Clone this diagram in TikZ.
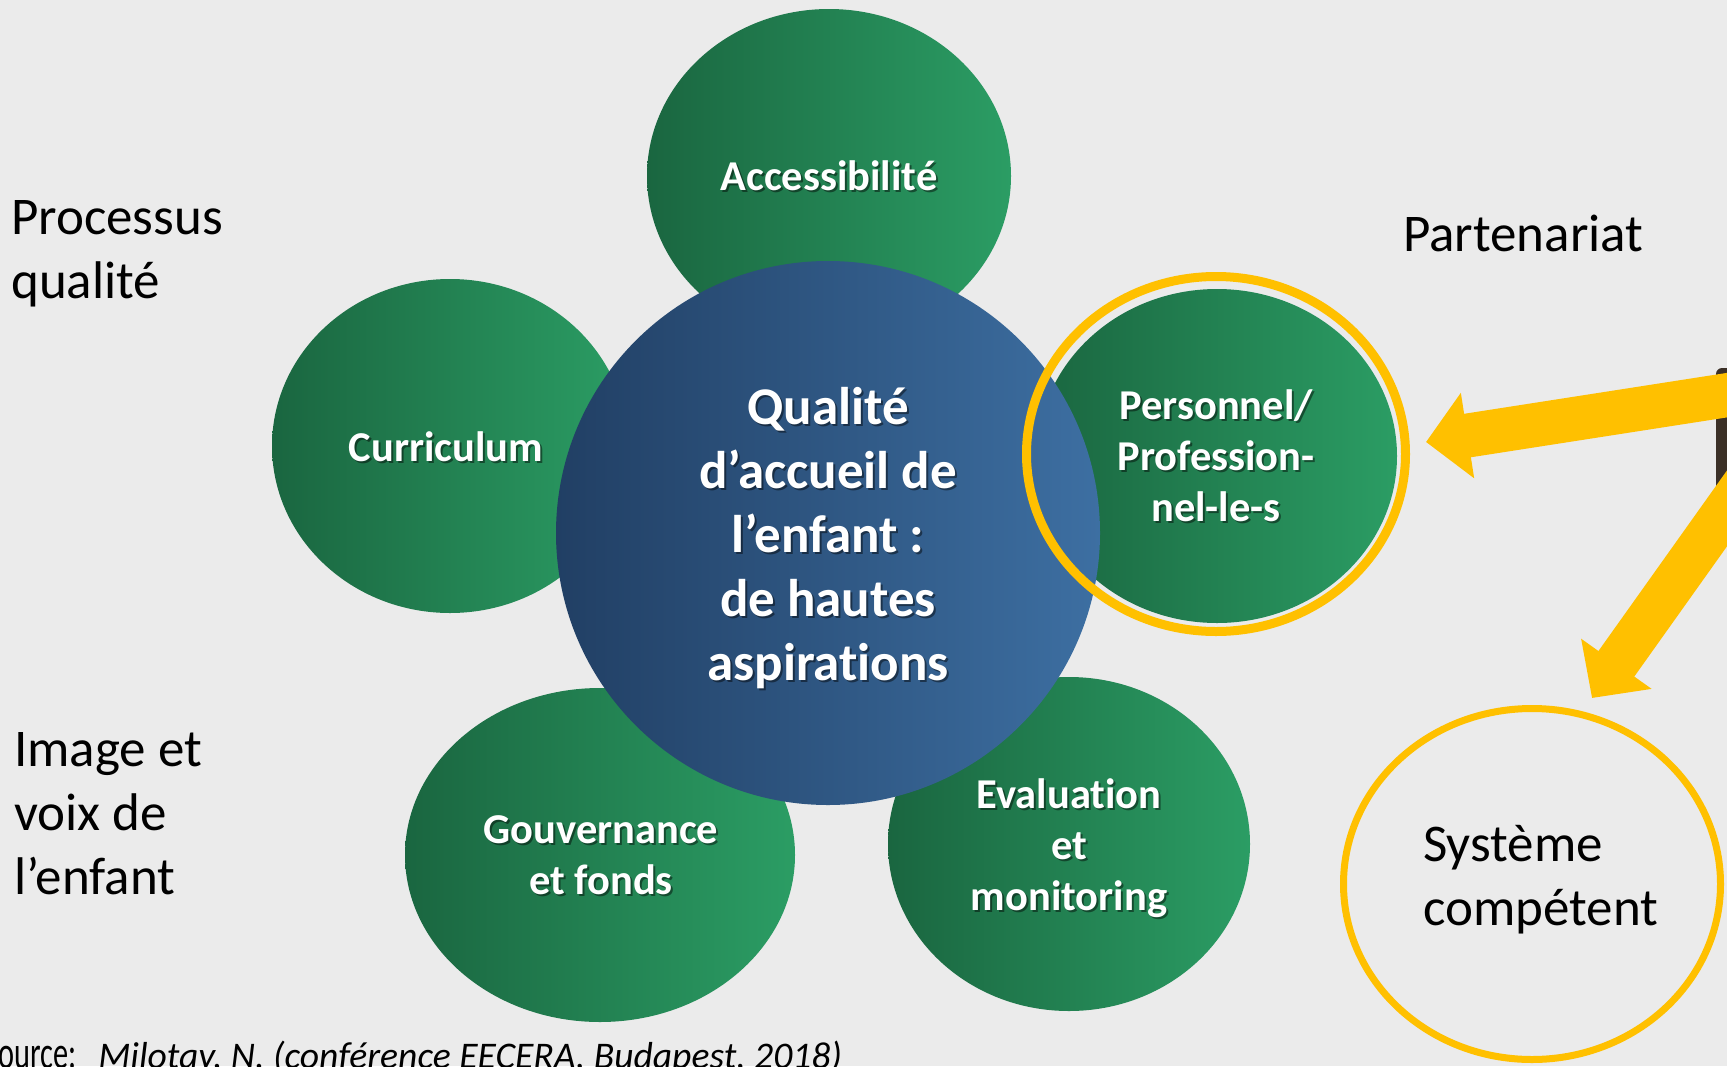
\documentclass[tikz,border=0pt]{standalone}
\usepackage{fontspec}
\setmainfont{Carlito}[Ligatures=NoCommon]
\usetikzlibrary{shapes.geometric,arrows.meta}
\definecolor{bg}{HTML}{EBEBEB}
\definecolor{gL}{HTML}{1A6640}
\definecolor{gR}{HTML}{2B9D64}
\definecolor{bL}{HTML}{213F64}
\definecolor{bR}{HTML}{3D6FA2}
\definecolor{yel}{HTML}{FFC000}
\definecolor{darkbar}{HTML}{3B3027}
\begin{document}
\begin{tikzpicture}[x=1pt,y=-1pt,
  gell/.style={ellipse, inner sep=0pt, draw=none, left color=gL, right color=gR, minimum height=334pt},
  bcirc/.style={circle, inner sep=0pt, draw=none, left color=bL, right color=bR, minimum size=544pt},
  lbl/.style={text=white, font=\fontsize{42.5}{51}\selectfont\bfseries, align=center, inner sep=0pt},
  lblsh/.style={lbl, text=black, text opacity=0.45, xshift=2pt, yshift=-2pt},
  ctr/.style={lbl, font=\fontsize{53}{64}\selectfont\bfseries},
  ctrsh/.style={ctr, text=black, text opacity=0.45, xshift=2pt, yshift=-2pt},
  big/.style={font=\fontsize{53}{64}\selectfont, align=left, inner sep=0pt, anchor=base west, text=black},
  yring/.style={ellipse, draw=yel, inner sep=0pt},
  yarrow/.style={draw=yel, line width=44pt, -{Triangle[length=42pt,width=84pt]}}
]
\useasboundingbox (0,0) rectangle (1727,1066);
\clip (0,0) rectangle (1727,1066);
\fill[bg] (0,0) rectangle (1727,1066);

% green ellipses
\node[gell, minimum width=364pt] (acc) at (829,176) {};
\node[gell, minimum width=356pt] (cur) at (450,446) {};
\node[gell, minimum width=360pt] (per) at (1217,456) {};
\node[gell, minimum width=390pt] (gou) at (600,855) {};
\node[gell, minimum width=362pt] (eva) at (1069,844) {};

% central circle
\node[bcirc] (mid) at (828,533) {};

% yellow ring around Personnel
\node[yring, line width=9pt, minimum width=379pt, minimum height=355pt] (ring) at (1216,454) {};

% labels
\node[lblsh] (acc-s) at (829,176) {Accessibilité};
\node[lbl] (acc-t) at (829,176) {Accessibilité};
\node[lblsh] (cur-s) at (446,447) {Curriculum};
\node[lbl] (cur-t) at (446,447) {Curriculum};
\node[lblsh] (per-s) at (1216,456) {Personnel/\\Profession-\\nel-le-s};
\node[lbl] (per-t) at (1216,456) {Personnel/\\Profession-\\nel-le-s};
\node[lblsh] (gou-s) at (601,855) {Gouvernance\\et fonds};
\node[lbl] (gou-t) at (601,855) {Gouvernance\\et fonds};
\node[lblsh] (eva-s) at (1069,848) {Evaluation\\et\\monitoring};
\node[lbl] (eva-t) at (1069,848) {Evaluation\\et\\monitoring};
\node[ctrsh] (mid-s) at (828,538) {Qualité\\d’accueil de\\l’enfant :\\de hautes\\aspirations};
\node[ctr] (mid-t) at (828,538) {Qualité\\d’accueil de\\l’enfant :\\de hautes\\aspirations};

% side texts (base anchor = baseline of last line)
\node[big] (proc) at (11,298) {Processus\\qualité};
\node[big] (part) at (1403,251) {Partenariat};
\node[big] (img) at (14,894) {Image et\\voix de\\l’enfant};

% system circle
\node[yring, line width=7pt, minimum width=377pt, minimum height=351pt] (sys) at (1532,884) {};
\node[big] (sys-t) at (1423,925) {Système\\compétent};

% dark bar at right edge
\fill[darkbar, rounded corners=6pt] (1716,520) -- (1716,368) -- (1745,368) -- (1745,520) -- cycle;

% arrows
\coordinate (a1s) at (1760,390);
\coordinate (a1t) at (1426,442);
\coordinate (a2s) at (1760,462);
\coordinate (a2t) at (1592,698);
\draw[yarrow] (a1s) -- (a1t);
\draw[yarrow] (a2s) -- (a2t);

% source
\node[inner sep=0pt, anchor=base west] (src) at (-16,1068) {{\fontsize{46}{50}\selectfont\scalebox{0.66}[1]{Source:}}\hspace{22pt}{\fontsize{37.6}{44}\selectfont\itshape Milotay, N. (conférence EECERA, Budapest, 2018)}};
\end{tikzpicture}
\end{document}
